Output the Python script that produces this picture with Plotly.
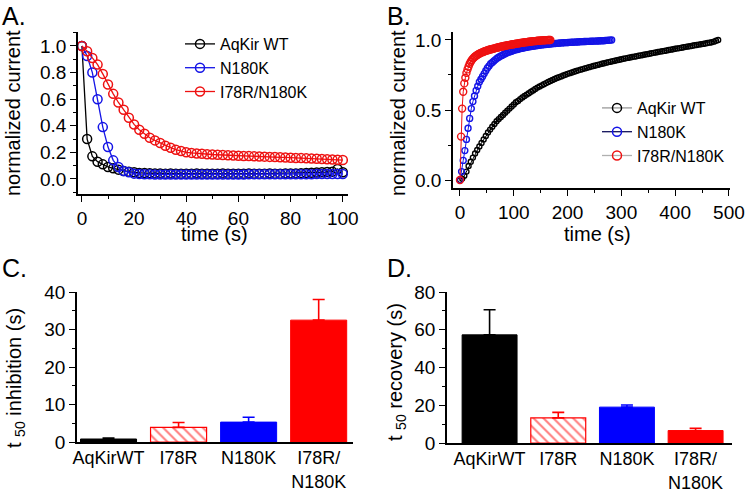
import plotly.graph_objects as go

# ---------------- Panel A: inhibition time course (t = 0..100 s, every 2 s)
a_time = list(range(0, 101, 2))
a_wt = [1.0, 0.30, 0.17, 0.13, 0.11, 0.09, 0.08, 0.07, 0.06, 0.055, 0.05,
        0.045, 0.044, 0.043, 0.042, 0.041, 0.040, 0.041, 0.040, 0.039, 0.040,
        0.040, 0.041, 0.040, 0.039, 0.040, 0.040, 0.041, 0.040, 0.040, 0.039,
        0.040, 0.041, 0.040, 0.040, 0.040, 0.041, 0.040, 0.040, 0.041, 0.041,
        0.042, 0.043,
        0.045, 0.047, 0.048, 0.050, 0.052, 0.055, 0.075, 0.050]
a_n180k = [1.0, 0.925, 0.80, 0.60, 0.39, 0.24, 0.14, 0.09, 0.06, 0.05, 0.04, 0.037,
           0.035, 0.035, 0.034, 0.034, 0.034, 0.034, 0.034, 0.034, 0.034, 0.034,
           0.034, 0.034, 0.034, 0.034, 0.034, 0.034, 0.034, 0.034, 0.034, 0.034,
           0.035, 0.035, 0.035, 0.035, 0.035, 0.035, 0.035, 0.035, 0.035, 0.035,
           0.036, 0.036, 0.036, 0.037, 0.037, 0.037, 0.038, 0.038, 0.038]
a_i78r_n180k = [1.0, 0.96, 0.91, 0.86, 0.79, 0.71, 0.64, 0.575, 0.52, 0.46, 0.41,
                0.37, 0.34, 0.31, 0.29, 0.27, 0.25, 0.235, 0.22, 0.21, 0.20,
                0.196, 0.192, 0.189, 0.186, 0.184, 0.182, 0.180, 0.178, 0.176, 0.175,
                0.173, 0.172, 0.170, 0.169, 0.168, 0.166, 0.165, 0.163, 0.162, 0.160,
                0.158, 0.157, 0.155, 0.153, 0.152, 0.150, 0.148, 0.146, 0.144, 0.142]

# ---------------- Panel B: recovery time course
# AqKir WT sampled every 4 s (0..480 s)
b_wt = [0.0, 0.01, 0.03, 0.06, 0.10, 0.13, 0.16, 0.19, 0.215, 0.24,
        0.265, 0.29, 0.315, 0.34, 0.36, 0.38, 0.40, 0.42, 0.435, 0.45,
        0.465, 0.48, 0.495, 0.51, 0.525, 0.54, 0.555, 0.565, 0.578, 0.59,
        0.60, 0.61, 0.62, 0.63, 0.64, 0.65, 0.66, 0.668, 0.676, 0.684,
        0.692, 0.70, 0.707, 0.714, 0.721, 0.728, 0.734, 0.740, 0.746, 0.752,
        0.758, 0.763, 0.768, 0.773, 0.778, 0.783, 0.788, 0.792, 0.797, 0.801,
        0.806, 0.810, 0.814, 0.818, 0.822, 0.826, 0.830, 0.834, 0.838, 0.842,
        0.845, 0.849, 0.852, 0.856, 0.859, 0.862, 0.866, 0.869, 0.872, 0.875,
        0.878, 0.881, 0.884, 0.887, 0.890, 0.893, 0.896, 0.899, 0.902, 0.905,
        0.908, 0.911, 0.914, 0.917, 0.920, 0.922, 0.925, 0.928, 0.931, 0.934,
        0.937, 0.940, 0.942, 0.945, 0.948, 0.951, 0.953, 0.956, 0.959, 0.962,
        0.964, 0.967, 0.970, 0.972, 0.975, 0.978, 0.981, 0.984, 0.988, 0.994,
        1.0]
# N180K sampled every 3 s (0..282 s)
b_n180k = [0.0, 0.06, 0.14, 0.21, 0.29, 0.37, 0.44, 0.51, 0.56, 0.60,
           0.64, 0.67, 0.70, 0.72, 0.74, 0.76, 0.78, 0.80, 0.815, 0.83,
           0.84, 0.85, 0.86, 0.87, 0.877, 0.884, 0.89, 0.896, 0.902, 0.907,
           0.912, 0.916, 0.92, 0.924, 0.928, 0.931, 0.934, 0.937, 0.94, 0.943,
           0.945, 0.947, 0.949, 0.951, 0.953, 0.955, 0.957, 0.959, 0.961, 0.962,
           0.964, 0.965, 0.967, 0.968, 0.969, 0.970, 0.972, 0.973, 0.974, 0.975,
           0.976, 0.977, 0.978, 0.979, 0.980, 0.981, 0.981, 0.982, 0.983, 0.984,
           0.984, 0.985, 0.986, 0.986, 0.987, 0.988, 0.988, 0.989, 0.989, 0.990,
           0.990, 0.991, 0.991, 0.992, 0.992, 0.993, 0.993, 0.994, 0.994, 0.995,
           0.996, 0.997, 0.998, 0.999, 1.0]
# I78R/N180K sampled every 2 s (0..168 s)
b_i78r_n180k = [0.0, 0.31, 0.51, 0.63, 0.69, 0.73, 0.765, 0.79, 0.81, 0.83,
                0.845, 0.857, 0.867, 0.875, 0.882, 0.888, 0.893, 0.898, 0.902, 0.906,
                0.910, 0.913, 0.916, 0.919, 0.922, 0.925, 0.927, 0.930, 0.932, 0.934,
                0.936, 0.938, 0.940, 0.942, 0.944, 0.946, 0.948, 0.950, 0.952, 0.954,
                0.955, 0.957, 0.959, 0.960, 0.962, 0.963, 0.965, 0.966, 0.968, 0.969,
                0.970, 0.972, 0.973, 0.974, 0.976, 0.977, 0.978, 0.979, 0.980, 0.982,
                0.983, 0.984, 0.985, 0.986, 0.987, 0.988, 0.989, 0.990, 0.991, 0.992,
                0.992, 0.993, 0.994, 0.995, 0.995, 0.996, 0.997, 0.997, 0.998, 0.998,
                0.999, 0.999, 1.0, 1.0, 1.0]
b_wt_time = [4 * i for i in range(len(b_wt))]
b_n180k_time = [3 * i for i in range(len(b_n180k))]
b_i78r_n180k_time = [2 * i for i in range(len(b_i78r_n180k))]

series_names = ["AqKir WT", "N180K", "I78R/N180K"]

# ---------------- Panels C and D: bar summaries
bar_categories = ["AqKirWT", "I78R", "N180K", "I78R/N180K"]
bar_ticktext = ["AqKirWT", "I78R", "N180K", "I78R/<br>N180K"]
c_t50_inhibition = [0.8, 3.9, 5.3, 32.5]
c_err = [0.25, 1.3, 1.3, 5.5]
d_t50_recovery = [57.3, 13.3, 19.0, 6.6]
d_err = [13.3, 2.9, 1.1, 1.2]

BLACK = "#000000"
BLUE = "#1414e6"
RED = "#ee1111"
BAR_BLUE = "#0000ff"
BAR_RED = "#ff0000"
FONT = "Liberation Sans, Arial, sans-serif"
TICK = 19
TITLE = 20

fig = go.Figure()

# Panel A traces
for name, ys, col in zip(series_names, [a_wt, a_n180k, a_i78r_n180k], [BLACK, BLUE, RED]):
    fig.add_trace(go.Scatter(
        x=a_time, y=ys, name=name, mode="lines+markers",
        line=dict(color=col, width=1.3),
        marker=dict(symbol="circle-open", size=9, color=col, line=dict(width=1.5)),
        xaxis="x", yaxis="y", legend="legend"))

# Panel B traces
b_data = [(b_wt_time, b_wt, BLACK, 5), (b_n180k_time, b_n180k, BLUE, 6),
          (b_i78r_n180k_time, b_i78r_n180k, RED, 7)]
for name, (xs, ys, col, sz) in zip(series_names, b_data):
    fig.add_trace(go.Scatter(
        x=xs, y=ys, name=name, mode="lines+markers", showlegend=False,
        line=dict(color=col, width=1),
        marker=dict(symbol="circle-open", size=sz, color=col, line=dict(width=1.4)),
        xaxis="x2", yaxis="y2"))
legend_line_cols = ["#9a9a9a", "#10105a", "#b0b0b0"]
for name, col, lcol in zip(series_names, [BLACK, BLUE, RED], legend_line_cols):
    fig.add_trace(go.Scatter(
        x=[None], y=[None], name=name, mode="lines+markers",
        line=dict(color=lcol, width=1.3),
        marker=dict(symbol="circle-open", size=9, color=col, line=dict(width=1.5)),
        xaxis="x2", yaxis="y2", legend="legend2"))

# Panels C, D bars
bar_styles = [
    dict(color=BLACK, line=dict(color=BLACK, width=1)),
    dict(color="white", line=dict(color=BAR_RED, width=1.2),
         pattern=dict(shape="\\", fgcolor=BAR_RED, bgcolor="white", size=7, solidity=0.3)),
    dict(color=BAR_BLUE, line=dict(color=BAR_BLUE, width=1)),
    dict(color=BAR_RED, line=dict(color=BAR_RED, width=1)),
]
err_cols = [BLACK, BAR_RED, BAR_BLUE, BAR_RED]
for vals, errs, xa, ya in [(c_t50_inhibition, c_err, "x3", "y3"),
                           (d_t50_recovery, d_err, "x4", "y4")]:
    for i in range(4):
        fig.add_trace(go.Bar(
            x=[bar_categories[i]], y=[vals[i]], width=0.8, showlegend=False,
            marker=bar_styles[i],
            error_y=dict(type="data", array=[errs[i]], arrayminus=[0], symmetric=False,
                         color=err_cols[i], thickness=1.6, width=6),
            xaxis=xa, yaxis=ya))

W, H = 745, 493


def px_x(a, b):
    return [a / W, b / W]


def px_y(top, bottom):
    return [1 - bottom / H, 1 - top / H]


axis_common = dict(showline=True, linecolor="black", linewidth=1.5, showgrid=False,
                   zeroline=False, ticks="outside", ticklen=6, tickwidth=1.3,
                   tickcolor="black", tickfont=dict(size=TICK, color="black", family=FONT),
                   automargin=False, mirror=False)
minor_common = dict(ticklen=3, tickwidth=1.2, tickcolor="black", showgrid=False)
bar_x_common = {**axis_common, "ticks": "outside", "ticklen": 1,
                "tickcolor": "rgba(0,0,0,0)", "ticklabelstandoff": -2,
                "tickfont": dict(size=18, color="black", family=FONT)}

fig.update_layout(
    width=W, height=H, margin=dict(l=0, r=0, t=0, b=0),
    paper_bgcolor="white", plot_bgcolor="white",
    font=dict(family=FONT, size=TICK, color="black"),
    barmode="overlay",
    xaxis=dict(domain=px_x(78, 348), range=[-1.5, 102], anchor="y",
               dtick=20, minor=dict(dtick=10, **minor_common), ticklabelstandoff=0,
               **axis_common),
    yaxis=dict(domain=px_y(32, 194), range=[-0.113, 1.105], anchor="x",
               tickvals=[0, 0.2, 0.4, 0.6, 0.8, 1.0], tickformat=".1f",
               minor=dict(dtick=0.1, **minor_common), **axis_common),
    xaxis2=dict(domain=px_x(453, 730), range=[-13, 502], anchor="y2",
                dtick=100, minor=dict(dtick=50, **minor_common), ticklabelstandoff=0,
                **axis_common),
    yaxis2=dict(domain=px_y(32, 188), range=[-0.057, 1.057], anchor="x2",
                tickvals=[0, 0.5, 1.0], tickformat=".1f",
                minor=dict(dtick=0.25, **minor_common), **axis_common),
    xaxis3=dict(domain=px_x(77, 353), range=[-0.45, 3.49], anchor="y3", type="category",
                tickvals=bar_categories, ticktext=bar_ticktext, **bar_x_common),
    yaxis3=dict(domain=px_y(292, 442), range=[0, 40], anchor="x3", dtick=10,
                minor=dict(dtick=5, **minor_common), **axis_common),
    xaxis4=dict(domain=px_x(447, 732), range=[-0.62, 3.53], anchor="y4", type="category",
                tickvals=bar_categories, ticktext=bar_ticktext, **bar_x_common),
    yaxis4=dict(domain=px_y(292, 443), range=[0, 80], anchor="x4", dtick=20,
                minor=dict(dtick=10, **minor_common), **axis_common),
    legend=dict(x=180 / W, y=1 - 27 / H, xanchor="left", yanchor="top",
                bgcolor="rgba(0,0,0,0)", font=dict(size=16, family=FONT, color="black"),
                tracegroupgap=0, itemwidth=30),
    legend2=dict(x=597 / W, y=1 - 91 / H, xanchor="left", yanchor="top",
                 bgcolor="rgba(0,0,0,0)", font=dict(size=16, family=FONT, color="black"),
                 tracegroupgap=0, itemwidth=30),
)

annots = [
    ("A.", 0, 16, 0, 25), ("B.", 385, 16, 0, 25), ("C.", 0, 268, 0, 25), ("D.", 385, 268, 0, 25),
    ("normalized current", 13, 113, -90, TITLE),
    ("normalized current", 398, 113, -90, TITLE),
    ("time (s)", 214, 234, 0, TITLE),
    ("time (s)", 597, 234, 0, TITLE),
    ("t <sub>50</sub> inhibition (s)", 15, 378, -90, TITLE),
    ("t <sub>50</sub> recovery (s)", 396, 372, -90, TITLE),
]
for text, xp, yp, ang, sz in annots:
    left = ang == 0 and text.endswith(".")
    fig.add_annotation(text=text, x=xp / W, y=1 - yp / H, xref="paper", yref="paper",
                       showarrow=False, textangle=ang,
                       xanchor="left" if left else "center", yanchor="middle",
                       font=dict(size=sz, family=FONT, color="black"))

fig.write_html(
    "out.html",
    config={"displayModeBar": False},
    post_script="document.documentElement.style.margin='0';"
                "document.body.style.margin='0';document.body.style.overflow='hidden';",
)
